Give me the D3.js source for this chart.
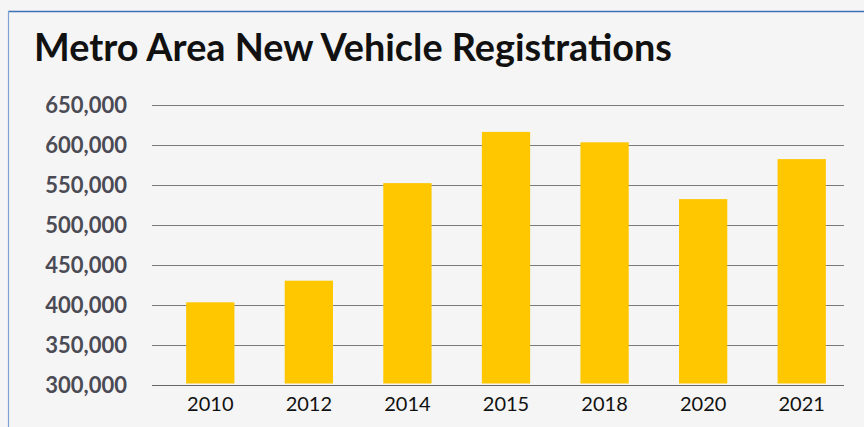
<!DOCTYPE html>
<html>
<head>
<meta charset="utf-8">
<script src="https://cdn.jsdelivr.net/npm/d3@7"></script>
<style>
  html, body { margin: 0; padding: 0; background: #f5f5f5; }
  svg { display: block; font-family: Lato, "Open Sans", sans-serif; }
</style>
</head>
<body>
<svg id="chart" width="864" height="427"></svg>
<script>
const years = ["2010", "2012", "2014", "2015", "2018", "2020", "2021"]
const registrations = [404000, 431000, 553000, 617000, 604000, 533000, 583000]
const yTicks = [300000, 350000, 400000, 450000, 500000, 550000, 600000, 650000]

const svg = d3.select("#chart")

// panel frame
svg.append("rect").attr("x", 0).attr("y", 0).attr("width", 864).attr("height", 427).attr("fill", "#f5f5f5")
svg.append("line").attr("x1", 8).attr("x2", 864).attr("y1", 11.5).attr("y2", 11.5)
    .attr("stroke", "#3d6fb4").attr("stroke-width", 1.5)
svg.append("line").attr("x1", 8.5).attr("x2", 8.5).attr("y1", 11).attr("y2", 427)
    .attr("stroke", "#7ea4d4").attr("stroke-width", 1.2)

svg.append("text")
    .attr("x", 34).attr("y", 61)
    .attr("font-size", 37.8).attr("font-weight", 700).attr("fill", "#111")
    .text("Metro Area New Vehicle Registrations")

const y = d3.scaleLinear().domain([300000, 650000]).range([385.5, 105.5])
const x = d3.scaleBand().domain(years).range([161, 851]).paddingInner(0.51).paddingOuter(0.255)

// gridlines
svg.append("g").selectAll("line").data(yTicks).join("line")
    .attr("x1", 152).attr("x2", 844)
    .attr("y1", d => Math.floor(y(d)) + 0.5).attr("y2", d => Math.floor(y(d)) + 0.5)
    .attr("stroke", d => d === 300000 ? "#666" : "#7a7a7a").attr("stroke-width", 1.2)

svg.append("g").selectAll("text").data(yTicks).join("text")
    .attr("x", 127).attr("y", d => y(d) + 7.5)
    .attr("text-anchor", "end")
    .attr("font-size", 22).attr("font-weight", 700).attr("fill", "#4b4b55")
    .text(d => d3.format(",")(d))

svg.append("g").selectAll("rect").data(years).join("rect")
    .attr("x", d => x(d))
    .attr("width", x.bandwidth())
    .attr("y", (d, i) => y(registrations[i]))
    .attr("height", (d, i) => y(300000) - 2 - y(registrations[i]))
    .attr("fill", "#fec700")

svg.append("g").selectAll("text").data(years).join("text")
    .attr("x", d => x(d) + x.bandwidth() / 2)
    .attr("y", 411)
    .attr("text-anchor", "middle")
    .attr("font-size", 20).attr("fill", "#111")
    .text(d => d)
</script>
</body>
</html>
